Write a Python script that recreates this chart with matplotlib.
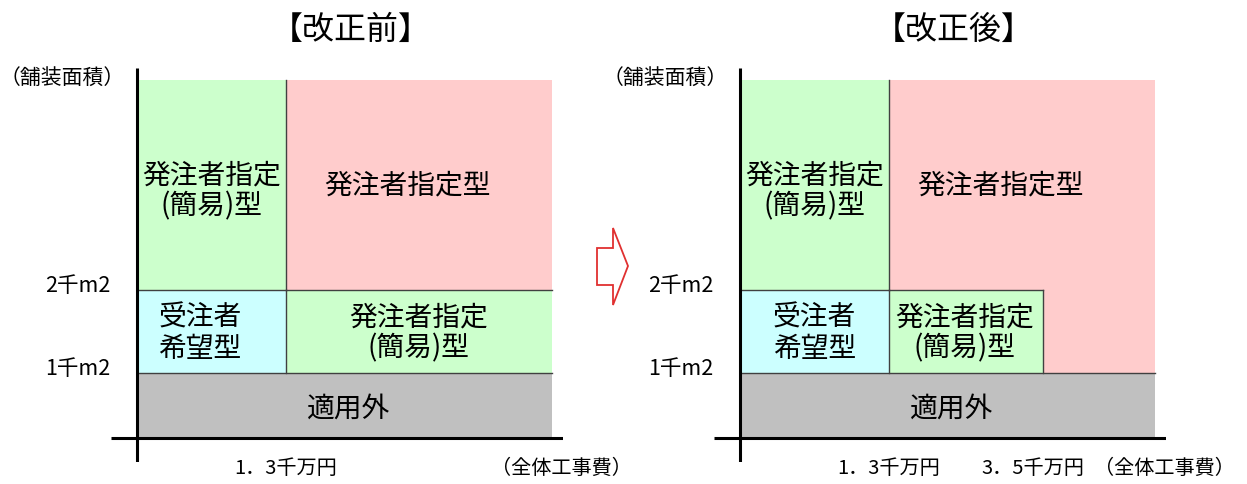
import numpy as np
import matplotlib
matplotlib.use('Agg')
import matplotlib.pyplot as plt
from matplotlib.patches import Polygon

plt.rcParams['font.family'] = ['Noto Sans CJK JP', 'DejaVu Sans']

# ── Data ──────────────────────────────────────────────────────────────────────
TITLES = ['【改正前】', '【改正後】']
Y_NAME = '（舗装面積）'
X_NAME = '（全体工事費）'
AREA_TICKS = [1, 2]
AREA_LABELS = ['1千m2', '2千m2']
AREA_TOP = 3
COST_END = 4.5
COST_TICKS = [[1.3], [1.3, 3.5]]
COST_LABELS = [['1．3千万円'], ['1．3千万円', '3．5千万円']]

# regions: cost range, area range, kind
BEFORE_X0 = [0, 1.3, 0, 1.3, 0]
BEFORE_X1 = [1.3, 4.5, 1.3, 4.5, 4.5]
BEFORE_Y0 = [2, 2, 1, 1, 0]
BEFORE_Y1 = [3, 3, 2, 2, 1]
BEFORE_KIND = ['simple', 'owner', 'bidder', 'simple', 'none']

AFTER_X0 = [0, 1.3, 0, 1.3, 0]
AFTER_X1 = [1.3, 4.5, 1.3, 3.5, 4.5]
AFTER_Y0 = [2, 1, 1, 1, 0]
AFTER_Y1 = [3, 3, 2, 2, 1]
AFTER_KIND = ['simple', 'owner', 'bidder', 'simple', 'none']

KIND_LABEL = {
    'simple': '発注者指定\n(簡易)型',
    'owner': '発注者指定型',
    'bidder': '受注者\n希望型',
    'none': '適用外',
}
KIND_COLOR = {
    'simple': '#CCFFCC',
    'owner': '#FFCCCC',
    'bidder': '#CCFFFF',
    'none': '#C0C0C0',
}

# ── Layout (non-linear schematic scales) ─────────────────────────────────────
COST_KNOTS = [-0.25, 0, 1.3, 3.5, 4.5, 4.6]
COST_PX = [-26, 0, 148.5, 303, 415, 426]
AREA_KNOTS = [-0.35, 0, 1, 2, 3, 3.1]
AREA_PX = [-24, 0, 65, 148, 358, 370]

W, H = 1247, 484
fig = plt.figure(figsize=(W / 100, H / 100), dpi=100)


def cost_fwd(v):
    return np.interp(v, COST_KNOTS, COST_PX)


def cost_inv(p):
    return np.interp(p, COST_PX, COST_KNOTS)


def area_fwd(v):
    return np.interp(v, AREA_KNOTS, AREA_PX)


def area_inv(p):
    return np.interp(p, AREA_PX, AREA_KNOTS)


def panel(x_axis_px, title, x0s, x1s, y0s, y1s, kinds, cticks, clabels, label_pos):
    left = x_axis_px - 26
    ax = fig.add_axes([left / W, 22 / H, 452 / W, 394 / H])
    ax.set_xscale('function', functions=(cost_fwd, cost_inv))
    ax.set_yscale('function', functions=(area_fwd, area_inv))
    ax.set_xlim(COST_KNOTS[0], COST_KNOTS[-1])
    ax.set_ylim(AREA_KNOTS[0], AREA_KNOTS[-1])
    ax.axis('off')

    for x0, x1, y0, y1, k in zip(x0s, x1s, y0s, y1s, kinds):
        ax.bar(x0, y1 - y0, width=x1 - x0, bottom=y0, align='edge',
               color=KIND_COLOR[k], edgecolor='none', zorder=1)
        # internal borders (skip outer top / right edges)
        if y1 < AREA_TOP:
            ax.plot([x0, x1], [y1, y1], color='#404040', lw=1.0, zorder=2)
        if x1 < COST_END:
            ax.plot([x1, x1], [y0, y1], color='#404040', lw=1.0, zorder=2)

    # axes lines
    ax.plot([COST_KNOTS[0], COST_KNOTS[-1]], [0, 0], color='black', lw=2.2,
            zorder=3, solid_capstyle='butt')
    ax.plot([0, 0], [AREA_KNOTS[0], AREA_KNOTS[-1]], color='black', lw=2.2,
            zorder=3, solid_capstyle='butt')

    # region labels
    for (lx, ly), k in zip(label_pos, kinds):
        ax.text(lx, ly, KIND_LABEL[k], ha='center', va='center', fontsize=20,
                linespacing=1.05, zorder=4)

    # tick labels
    for yv, yl in zip(AREA_TICKS, AREA_LABELS):
        ax.annotate(yl, (0, yv), xytext=(-27, 4), textcoords='offset pixels',
                    ha='right', va='center', fontsize=15.5, annotation_clip=False)
    for i, (xv, xl) in enumerate(zip(cticks, clabels)):
        dx = -10 if i == 1 else 0
        ax.annotate(xl, (xv, 0), xytext=(dx, -30), textcoords='offset pixels',
                    ha='center', va='center', fontsize=14.5, annotation_clip=False)
    ax.annotate(X_NAME, (COST_KNOTS[-1], 0), xytext=(-2, -30), textcoords='offset pixels',
                ha='center', va='center', fontsize=14.5, annotation_clip=False)
    ax.annotate(Y_NAME, (0, AREA_TOP), xytext=(-75, 2), textcoords='offset pixels',
                ha='center', va='center', fontsize=15, annotation_clip=False)
    ax.annotate(title, (2.2, AREA_KNOTS[-1]), xytext=(2, 38), textcoords='offset pixels',
                ha='center', va='center', fontsize=23, annotation_clip=False)
    return ax


# label anchor positions (cost, area)
BEFORE_LABEL_POS = [(0.65, 2.47), (3.04, 2.5), (0.55, 1.48), (3.19, 1.48), (2.2, 0.45)]
AFTER_LABEL_POS = [(0.65, 2.47), (2.89, 2.5), (0.65, 1.48), (2.38, 1.48), (2.2, 0.45)]

panel(137, TITLES[0], BEFORE_X0, BEFORE_X1, BEFORE_Y0, BEFORE_Y1, BEFORE_KIND,
      COST_TICKS[0], COST_LABELS[0], BEFORE_LABEL_POS)
panel(740, TITLES[1], AFTER_X0, AFTER_X1, AFTER_Y0, AFTER_Y1, AFTER_KIND,
      COST_TICKS[1], COST_LABELS[1], AFTER_LABEL_POS)

# ── Block arrow between panels ───────────────────────────────────────────────
arrow_px = np.array([[597, 248], [613, 248], [613, 228], [628, 266],
                     [613, 305], [613, 285], [597, 285]])
arrow = Polygon(np.column_stack([arrow_px[:, 0] / W, 1 - arrow_px[:, 1] / H]),
                closed=True, facecolor='white', edgecolor='#E03030', lw=1.3,
                transform=fig.transFigure)
fig.patches.append(arrow)

fig.savefig('out.png', dpi=100, facecolor='white')
